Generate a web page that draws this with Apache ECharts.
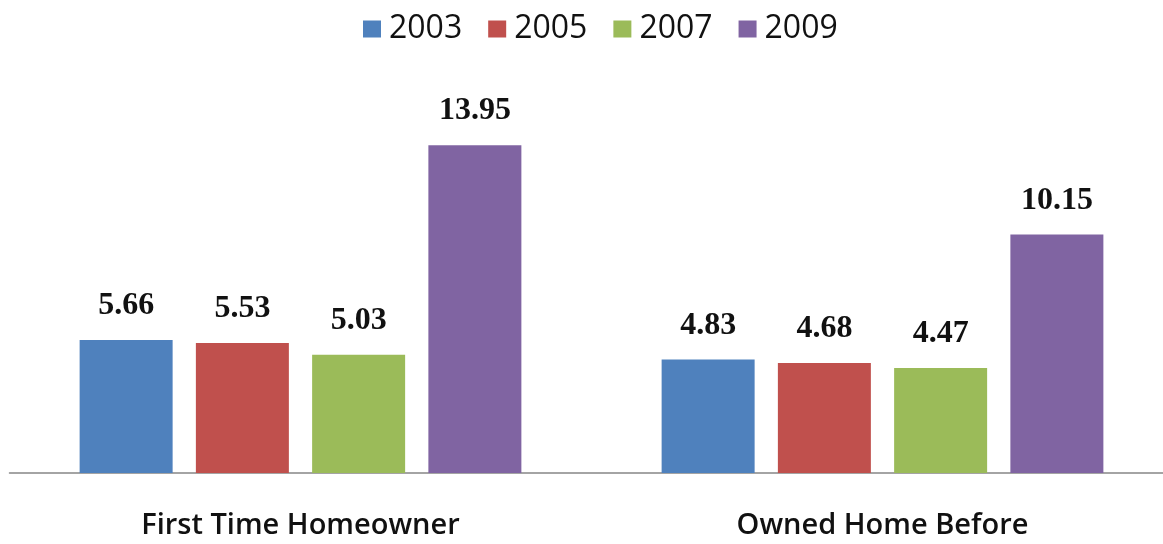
<!DOCTYPE html>
<html>
<head>
<meta charset="utf-8">
<script src="https://cdn.jsdelivr.net/npm/echarts@6/dist/echarts.min.js"></script>
<style>
  html, body { margin: 0; padding: 0; background: #fff; }
  #chart { width: 1163px; height: 544px; }
</style>
</head>
<body>
<div id="chart"></div>
<script>
// Home buyer groups and survey years
const categories = ['First Time Homeowner', 'Owned Home Before'];
const years = ['2003', '2005', '2007', '2009'];
const values2003 = [5.66, 4.83];
const values2005 = [5.53, 4.68];
const values2007 = [5.03, 4.47];
const values2009 = [13.95, 10.15];

const seriesValues = [values2003, values2005, values2007, values2009];
const colors = ['#4F81BD', '#C0504D', '#9BBB59', '#8064A2'];

const chart = echarts.init(document.getElementById('chart'), null, { renderer: 'canvas' });

chart.setOption({
  animation: false,
  backgroundColor: '#ffffff',
  color: colors,
  legend: {
    top: 13,
    left: 363,
    padding: 0,
    itemWidth: 18,
    itemHeight: 17,
    itemGap: 26,
    icon: 'rect',
    textStyle: { fontFamily: 'Open Sans', fontSize: 32, color: '#111', padding: [0, 0, 0, 3] },
    data: years
  },
  // the plot area runs slightly past the right edge of the canvas
  grid: { left: 9.5, right: -10.5, top: 144, bottom: 71, outerBoundsMode: 'none' },
  xAxis: {
    type: 'category',
    data: categories,
    axisLine: { lineStyle: { color: '#868686', width: 1.5 } },
    axisTick: { show: false },
    axisLabel: { margin: 38, fontFamily: 'Open Sans', fontSize: 29, fontWeight: 600, color: '#111' }
  },
  yAxis: {
    type: 'value',
    min: 0,
    max: 14,
    show: false,
    splitLine: { show: false }
  },
  series: years.map((y, i) => ({
    name: y,
    type: 'bar',
    data: seriesValues[i],
    barWidth: 93,
    barGap: '25%',
    label: {
      show: true,
      position: 'top',
      distance: 18,
      formatter: p => p.value.toFixed(2),
      fontFamily: 'Liberation Serif',
      fontWeight: 'bold',
      fontSize: 32,
      color: '#111'
    }
  }))
});
</script>
</body>
</html>
